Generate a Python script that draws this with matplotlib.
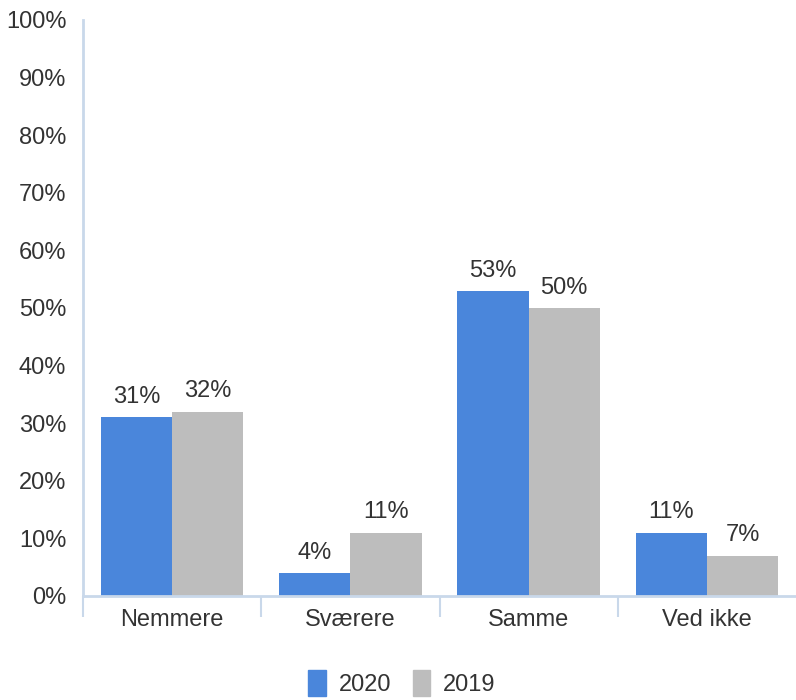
import matplotlib.pyplot as plt
from matplotlib.patches import Patch
import numpy as np

categories = ["Nemmere", "Sværere", "Samme", "Ved ikke"]
values_2020 = [31, 4, 53, 11]
values_2019 = [32, 11, 50, 7]
years = ["2020", "2019"]

blue = "#4a86db"
grey = "#bdbdbd"
axis_col = "#c9d8ea"
text_col = "#333333"
fs = 17

plt.rcParams["font.family"] = ["Liberation Sans", "DejaVu Sans"]

fig = plt.figure(figsize=(7.96, 7.0), dpi=100)
ax = fig.add_axes([83 / 796, 1 - 596 / 700, 713 / 796, 576 / 700])

x = np.arange(len(categories))
w = 0.4
b1 = ax.bar(x - w / 2, values_2020, w, color=blue, edgecolor="none")
b2 = ax.bar(x + w / 2, values_2019, w, color=grey, edgecolor="none")

# value labels over each bar
for bars, vals in ((b1, values_2020), (b2, values_2019)):
    for rect, v in zip(bars, vals):
        ax.text(rect.get_x() + rect.get_width() / 2, v + 1.6, f"{v}%",
                ha="center", va="bottom", fontsize=fs, color=text_col)

ax.set_xlim(-0.5, 3.5)
ax.set_ylim(0, 100)
ax.set_yticks(range(0, 101, 10))
ax.set_yticklabels([f"{t}%" for t in range(0, 101, 10)])
ax.tick_params(axis="y", length=0, pad=12, labelsize=fs, labelcolor=text_col)

ax.set_xticks(x)
ax.set_xticklabels(categories)
ax.tick_params(axis="x", which="major", length=0, pad=9, labelsize=fs,
               labelcolor=text_col)
ax.set_xticks([-0.5, 0.5, 1.5, 2.5], minor=True)
ax.tick_params(axis="x", which="minor", length=15, width=1.5, color=axis_col)

for side in ("top", "right"):
    ax.spines[side].set_visible(False)
for side in ("left", "bottom"):
    ax.spines[side].set_color(axis_col)
    ax.spines[side].set_linewidth(2)

handles = [Patch(color=blue), Patch(color=grey)]
fig.legend(handles, years, loc="lower center", bbox_to_anchor=(0.505, -0.025),
           ncol=2, frameon=False, fontsize=fs, handlelength=0.75,
           handleheight=1.35, handletextpad=0.55, columnspacing=0.9,
           labelcolor=text_col)

fig.savefig("out.png", dpi=100)
